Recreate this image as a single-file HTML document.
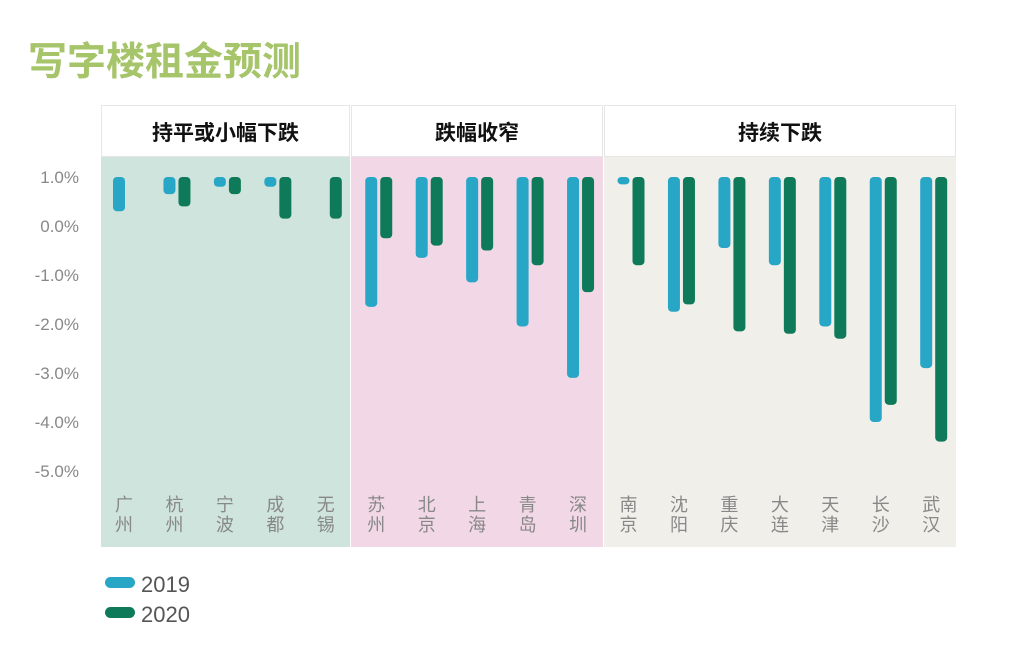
<!DOCTYPE html>
<html><head><meta charset="utf-8"><style>
body{margin:0;width:1028px;height:647px;background:#fff;overflow:hidden;font-family:"Liberation Sans","Noto Sans CJK SC",sans-serif}
</style></head><body>
<svg width="1028" height="647" xmlns="http://www.w3.org/2000/svg" font-family="Liberation Sans, Noto Sans CJK SC, sans-serif">
<text x="28" y="75" font-size="39" font-weight="bold" fill="#a6c46a">写字楼租金预测</text>
<g id="panels"></g>
<g id="yaxis"></g>
<g id="bars"></g>
<g id="xlabels"></g>
<g>
<rect x="105" y="577" width="30" height="11" rx="5.5" fill="#27a6c6"/>
<text x="141" y="592" font-size="22" fill="#555">2019</text>
<rect x="105" y="607" width="30" height="11" rx="5.5" fill="#0f7a5a"/>
<text x="141" y="622" font-size="22" fill="#555">2020</text>
</g>
</svg>
<script>
const cities=["广州","杭州","宁波","成都","无锡","苏州","北京","上海","青岛","深圳","南京","沈阳","重庆","大连","天津","长沙","武汉"];
const v2019=[0.3,0.65,0.8,0.8,1.0,-1.65,-0.65,-1.15,-2.05,-3.1,0.85,-1.75,-0.45,-0.8,-2.05,-4.0,-2.9];
const v2020=[1.0,0.4,0.65,0.15,0.15,-0.25,-0.4,-0.5,-0.8,-1.35,-0.8,-1.6,-2.15,-2.2,-2.3,-3.65,-4.4];
const ticks=[1,0,-1,-2,-3,-4,-5];
const tickLabels=["1.0%","0.0%","-1.0%","-2.0%","-3.0%","-4.0%","-5.0%"];
const groups=["持平或小幅下跌","跌幅收窄","持续下跌"];
const groupSizes=[5,5,7];
const ns="http://www.w3.org/2000/svg";
const y=v=>226-v*49;
const xc=i=>124+i*50.45;
function mk(t,a,p){const e=document.createElementNS(ns,t);for(const k in a)e.setAttribute(k,a[k]);p.appendChild(e);return e;}
const P=document.getElementById('panels');
const bounds=[[101,350],[351,603],[604,956]];
const fills=["#cee4dd","#f2d8e6","#f1efe9"];
groups.forEach((g,i)=>{
 const [a,b]=bounds[i];
 const bg=mk('rect',{x:a,y:157,width:b-a,height:390,fill:fills[i]},P);
 
 
 const h=mk('rect',{x:a+0.5,y:105.5,width:b-a-1,height:51,fill:"#fff",stroke:"#e6e6e6"},P);
 
 
 const t=mk('text',{x:(a+b)/2,y:140,"text-anchor":"middle","font-size":21,"font-weight":"bold",fill:"#111"},P);
 t.textContent=g;
 
 
});
const Y=document.getElementById('yaxis');
ticks.forEach((v,i)=>{
 const t=mk('text',{x:79,y:y(v)+6,"text-anchor":"end","font-size":17,fill:"#888"},Y);
 t.textContent=tickLabels[i];
 
 
});
const B=document.getElementById('bars');
function bar(x,v,c,name){
 const top=y(1),bot=y(v);
 if(bot-top<0.5)return;
 const h=bot-top;const r=Math.min(4,h/2);
 const e=mk('rect',{x:x-6,y:top,width:12,height:h,rx:r,fill:c},B);
 
 
}
cities.forEach((c,i)=>{
 bar(xc(i)-5,v2019[i],"#27a6c6",'bar-2019-'+i);
 bar(xc(i)+10,v2020[i],"#0f7a5a",'bar-2020-'+i);
 const X=document.getElementById('xlabels');
 [0,1].forEach(k=>{
  const t=mk('text',{x:xc(i),y:511+k*20,"text-anchor":"middle","font-size":18,fill:"#888"},X);
  t.textContent=c[k];
  
  
 });
});
</script>
</body></html>
